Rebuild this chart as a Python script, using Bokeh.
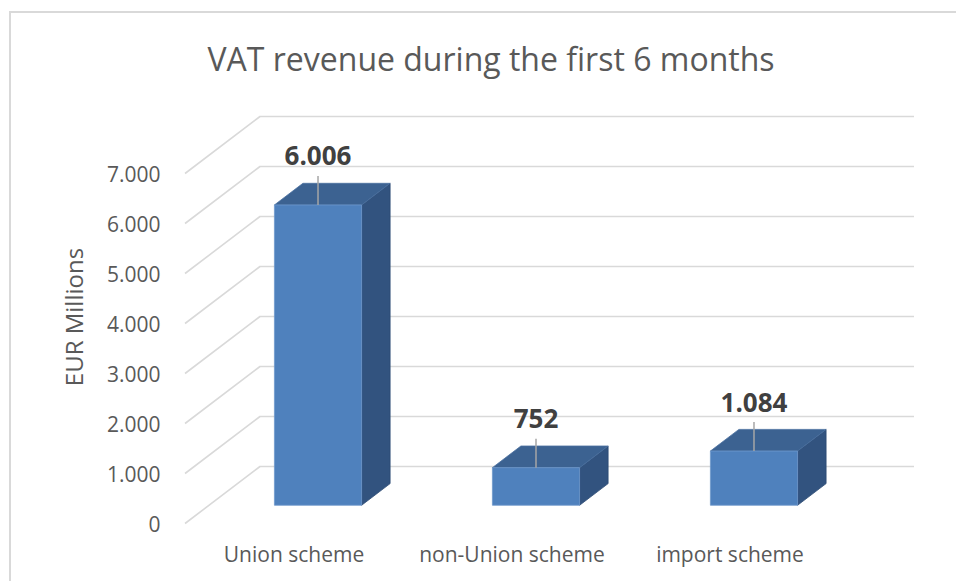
from bokeh.plotting import figure
from bokeh.models import Range1d, FixedTicker
from bokeh.core.properties import value
from bokeh.embed import file_html
from bokeh.resources import INLINE

# ---- data ----
categories = ["Union scheme", "non-Union scheme", "import scheme"]
revenue = [6006, 752, 1084]
value_labels = ["6.006", "752", "1.084"]
y_ticks = [0, 1000, 2000, 3000, 4000, 5000, 6000, 7000]
y_tick_labels = ["0", "1.000", "2.000", "3.000", "4.000", "5.000", "6.000", "7.000"]

# ---- 3D projection parameters (style) ----
DX = 0.344    # x shift (category units) from front to back wall
DY = 1140.0   # y shift (value units) from front to back wall
D0, D1 = 0.32, 0.70   # bar front/back depth
HW = 0.2      # bar half width
X_LEFT, X_RIGHT = -0.5, 2.5

FRONT = "#4F81BD"
TOP = "#3C6291"
SIDE = "#32537F"
GRID = "#D9D9D9"
TXT = "#595959"

p = figure(width=956, height=581, output_backend="svg", toolbar_location=None,
           x_range=Range1d(-0.507, 2.851), y_range=Range1d(-200, 8460),
           min_border_left=183, min_border_right=41, min_border_top=100,
           min_border_bottom=48)
p.outline_line_color = None
p.grid.visible = False
p.background_fill_color = "white"
p.border_fill_color = None
p.styles = {
    "background-color": "white",
    "background-image": "linear-gradient(#D9D9D9,#D9D9D9), linear-gradient(#D9D9D9,#D9D9D9)",
    "background-size": "2px 100%, 100% 2px",
    "background-position": "9px 11px, 9px 11px",
    "background-repeat": "no-repeat",
}

p.title.text = "VAT revenue during the first 6 months"
p.title.align = "left"
p.title.offset = 24
p.title.standoff = 42
p.title.text_font = "Open Sans"
p.title.text_font_size = "32px"
p.title.text_font_style = "normal"
p.title.text_color = TXT

# gridlines: side wall diagonal + back wall horizontal
gx, gy = [], []
for t in y_ticks:
    gx.append([X_LEFT, X_LEFT + DX, X_RIGHT + DX])
    gy.append([t, t + DY, t + DY])
p.multi_line(gx, gy, line_color=GRID, line_width=1.6)

# bars
fx, fy, tx, ty, sx, sy = [], [], [], [], [], []
lx, ly0, ly1, vy = [], [], [], []
for i, v in enumerate(revenue):
    x0 = i - HW + D0 * DX
    x1 = i + HW + D0 * DX
    b0 = D0 * DY
    ddx = (D1 - D0) * DX
    ddy = (D1 - D0) * DY
    fx.append([x0, x1, x1, x0]); fy.append([b0, b0, v + b0, v + b0])
    tx.append([x0, x1, x1 + ddx, x0 + ddx]); ty.append([v + b0, v + b0, v + b0 + ddy, v + b0 + ddy])
    sx.append([x1, x1 + ddx, x1 + ddx, x1]); sy.append([b0, b0 + ddy, v + b0 + ddy, v + b0])
    lx.append(i + D0 * DX)
    ly0.append(v + b0); ly1.append(v + b0 + 580)
    vy.append(v + b0 + 980)

p.patches(sx, sy, fill_color=SIDE, line_color="#2C4A72", line_width=0.8)
p.patches(tx, ty, fill_color=TOP, line_color="#4A70A0", line_width=0.8)
p.patches(fx, fy, fill_color=FRONT, line_color="#6E98CC", line_width=0.8)

p.segment(x0=lx, y0=ly0, x1=lx, y1=ly1, line_color="#A6A6A6", line_width=1.5)
p.text(x=lx, y=vy, text=value_labels, text_align="center", text_baseline="middle",
       text_font=value("Open Sans"), text_font_style="bold", text_font_size="26px",
       text_color="#404040")

# axes
xa = p.xaxis[0]
xa.ticker = FixedTicker(ticks=[0, 1, 2])
xa.major_label_overrides = {i: c for i, c in enumerate(categories)}
xa.axis_line_color = None
xa.major_tick_line_color = None
xa.minor_tick_line_color = None
xa.major_label_standoff = 0
xa.major_label_text_font = "Open Sans"
xa.major_label_text_font_size = "21px"
xa.major_label_text_color = TXT

ya = p.yaxis[0]
ya.ticker = FixedTicker(ticks=y_ticks)
ya.major_label_overrides = {t: l for t, l in zip(y_ticks, y_tick_labels)}
ya.axis_line_color = None
ya.major_tick_line_color = None
ya.minor_tick_line_color = None
ya.major_label_standoff = 17
ya.major_label_text_font = "Open Sans"
ya.major_label_text_font_size = "21px"
ya.major_label_text_color = TXT
ya.axis_label = "EUR Millions"
ya.axis_label_standoff = 14
ya.axis_label_text_font = "Open Sans"
ya.axis_label_text_font_size = "24px"
ya.axis_label_text_font_style = "normal"
ya.axis_label_text_color = TXT

open("out.html", "w").write(file_html(p, INLINE))
